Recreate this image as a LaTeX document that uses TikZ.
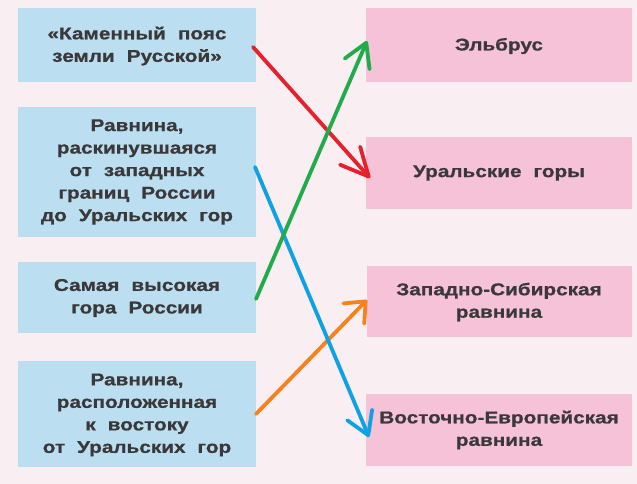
\documentclass[tikz,border=0pt]{standalone}
\usepackage{fontspec}
\setmainfont{Liberation Sans}
\newfontfamily\boxfontfam[FakeStretch=1.22,BoldFeatures={FakeBold=0.8}]{Liberation Sans}
\usetikzlibrary{arrows.meta}
\definecolor{bgcol}{HTML}{F9EEF1}
\definecolor{bluebox}{HTML}{BBDEF0}
\definecolor{pinkbox}{HTML}{F5C2D8}
\definecolor{txtcol}{HTML}{3A3839}
\definecolor{cred}{HTML}{E6212B}
\definecolor{cgreen}{HTML}{22AB4A}
\definecolor{cblue}{HTML}{0EA1E3}
\definecolor{corange}{HTML}{F6821F}
\tikzset{
  boxtext/.style={font={\boxfontfam\bfseries\fontsize{17}{22.5}\selectfont\spaceskip=12pt\relax},
    text=txtcol, align=center},
  leftbox/.style={fill=bluebox, draw=none},
  rightbox/.style={fill=pinkbox, draw=none},
  conn/.style={line width=3.8pt, line cap=round, line join=round},
  tipL/.style 2 args={-{Straight Barb[length=#1pt,width=#2pt,line cap=round,line join=round]}},
}
\begin{document}
\begin{tikzpicture}[x=1pt,y=-1pt]
\useasboundingbox (0,0) rectangle (637,484);
\fill[bgcol] (0,0) rectangle (637,484);
% left boxes
\path[leftbox] (18,8) rectangle (256,82);
\path[leftbox] (18,107) rectangle (256,237);
\path[leftbox] (18,262) rectangle (256,333);
\path[leftbox] (18,361) rectangle (256,467);
% right boxes
\path[rightbox] (366,8) rectangle (632,82);
\path[rightbox] (366,137) rectangle (632,209);
\path[rightbox] (367,266) rectangle (632,337);
\path[rightbox] (366,394) rectangle (632,466);
% texts
\node[boxtext] (L1) at (137,46) {«Каменный пояс\\земли Русской»};
\node[boxtext] (L2) at (137,172) {Равнина,\\раскинувшаяся\\от западных\\границ России\\до Уральских гор};
\node[boxtext] (L3) at (137,298) {Самая высокая\\гора России};
\node[boxtext] (L4) at (137,415) {Равнина,\\расположенная\\к востоку\\от Уральских гор};
\node[boxtext] (R1) at (499,46) {Эльбрус};
\node[boxtext] (R2) at (499,173) {Уральские горы};
\node[boxtext] (R3) at (499,302) {Западно-Сибирская\\равнина};
\node[boxtext] (R4) at (499,430) {Восточно-Европейская\\равнина};
% connector end points
\coordinate (sRed) at (253,47);
\coordinate (tRed) at (370,178);
\coordinate (sGreen) at (256,299);
\coordinate (tGreen) at (367,41);
\coordinate (sBlue) at (255,167);
\coordinate (tBlue) at (369,437);
\coordinate (sOrange) at (256,414);
\coordinate (tOrange) at (367,300);
% connectors
\draw[conn, corange, tipL={17}{29}] (sOrange) -- (tOrange);
\draw[conn, cred, tipL={28}{27}] (sRed) -- (tRed);
\draw[conn, cblue, tipL={22}{27}] (sBlue) -- (tBlue);
\draw[conn, cgreen, tipL={23}{27}] (sGreen) -- (tGreen);
\end{tikzpicture}
\end{document}
